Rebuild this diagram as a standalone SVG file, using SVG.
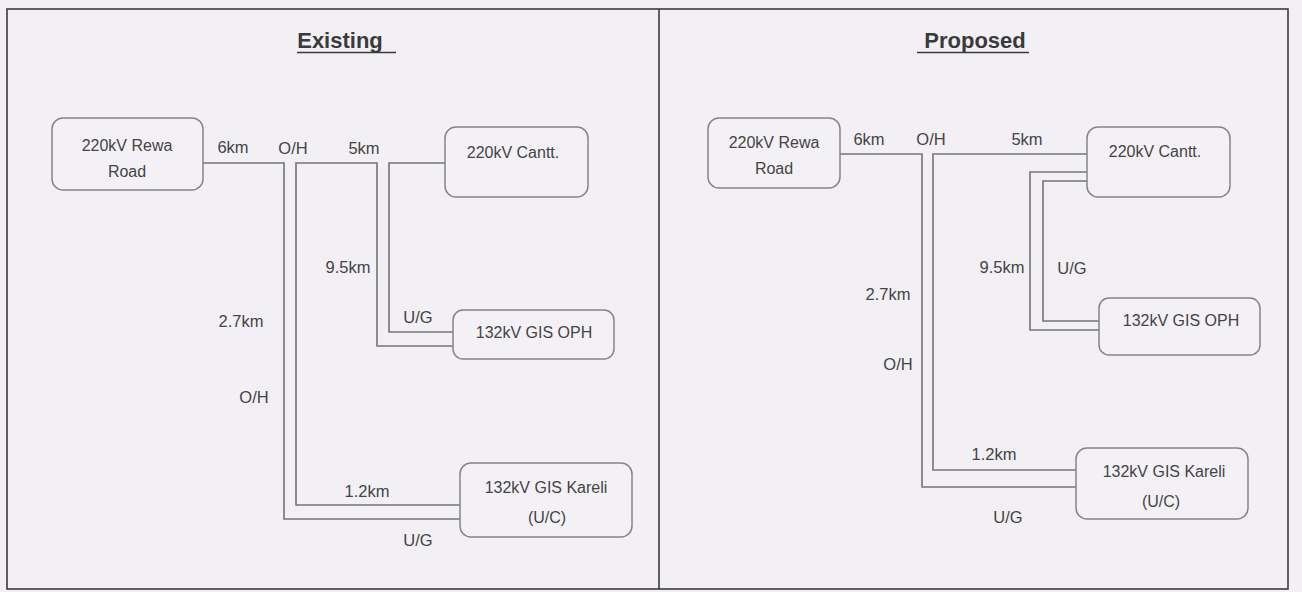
<svg xmlns="http://www.w3.org/2000/svg" width="1302" height="592" viewBox="0 0 1302 592">
<style>
.bg{fill:#f2f0f5}
.frame{fill:none;stroke:#3c3c3c;stroke-width:1.6}
.box{fill:#f3f1f6;stroke:#858585;stroke-width:1.5}
.wire{fill:none;stroke:#747474;stroke-width:1.6}
.t{font-family:"Liberation Sans",Arial,sans-serif;font-size:16px;fill:#444;text-anchor:middle}
.lbl{font-family:"Liberation Sans",Arial,sans-serif;font-size:16.5px;fill:#444;text-anchor:middle}
.title{font-family:"Liberation Sans",Arial,sans-serif;font-size:22px;font-weight:bold;fill:#3a3a3a;text-anchor:middle}
.ul{stroke:#3a3a3a;stroke-width:1.5}
</style>
<rect class="bg" x="0" y="0" width="1302" height="592"/>
<g id="frame">
<rect class="frame" x="7" y="9" width="1281" height="580"/>
<line class="frame" x1="659" y1="9" x2="659" y2="589"/>
</g>
<g id="titles">
<text class="title" x="340" y="48">Existing</text>
<line class="ul" x1="297" y1="52.5" x2="396" y2="52.5"/>
<text class="title" x="975" y="48">Proposed</text>
<line class="ul" x1="917" y1="52.5" x2="1029" y2="52.5"/>
</g>
<g id="connectors">
<path class="wire" d="M203,163 H284 V519 H460"/>
<path class="wire" d="M460,505 H296 V163 H377 V346 H453"/>
<path class="wire" d="M445,163 H389 V332 H453"/>
<path class="wire" d="M840,154 H922 V487 H1076"/>
<path class="wire" d="M1087,154 H933 V470 H1076"/>
<path class="wire" d="M1087,172 H1030 V330 H1099"/>
<path class="wire" d="M1087,181 H1043 V321 H1099"/>
</g>
<g id="labels">
<text class="lbl" x="233" y="153">6km</text>
<text class="lbl" x="293" y="154">O/H</text>
<text class="lbl" x="364" y="154">5km</text>
<text class="lbl" x="348" y="273">9.5km</text>
<text class="lbl" x="418" y="323">U/G</text>
<text class="lbl" x="241" y="327">2.7km</text>
<text class="lbl" x="254" y="403">O/H</text>
<text class="lbl" x="367" y="497">1.2km</text>
<text class="lbl" x="418" y="546">U/G</text>
<text class="lbl" x="869" y="145">6km</text>
<text class="lbl" x="931" y="145">O/H</text>
<text class="lbl" x="1027" y="145">5km</text>
<text class="lbl" x="1002" y="273">9.5km</text>
<text class="lbl" x="1072" y="274">U/G</text>
<text class="lbl" x="888" y="300">2.7km</text>
<text class="lbl" x="898" y="370">O/H</text>
<text class="lbl" x="994" y="460">1.2km</text>
<text class="lbl" x="1008" y="523">U/G</text>
</g>
<g id="ex-rewa">
<rect class="box" x="52" y="118" width="151" height="72" rx="11"/>
<text class="t" x="127" y="151">220kV Rewa</text>
<text class="t" x="127" y="177">Road</text>
</g>
<g id="ex-cantt">
<rect class="box" x="445" y="127" width="143" height="70" rx="11"/>
<text class="t" x="513" y="158">220kV Cantt.</text>
</g>
<g id="ex-oph">
<rect class="box" x="453" y="310" width="161" height="49" rx="10"/>
<text class="t" x="534" y="338">132kV GIS OPH</text>
</g>
<g id="ex-kareli">
<rect class="box" x="460" y="463" width="172" height="74" rx="11"/>
<text class="t" x="546" y="493">132kV GIS Kareli</text>
<text class="t" x="547" y="523">(U/C)</text>
</g>
<g id="pr-rewa">
<rect class="box" x="708" y="118" width="132" height="70" rx="11"/>
<text class="t" x="774" y="148">220kV Rewa</text>
<text class="t" x="774" y="174">Road</text>
</g>
<g id="pr-cantt">
<rect class="box" x="1087" y="127" width="143" height="70" rx="11"/>
<text class="t" x="1155" y="157">220kV Cantt.</text>
</g>
<g id="pr-oph">
<rect class="box" x="1099" y="298" width="161" height="57" rx="10"/>
<text class="t" x="1181" y="326">132kV GIS OPH</text>
</g>
<g id="pr-kareli">
<rect class="box" x="1076" y="448" width="172" height="71" rx="11"/>
<text class="t" x="1164" y="477">132kV GIS Kareli</text>
<text class="t" x="1161" y="507">(U/C)</text>
</g>
</svg>
